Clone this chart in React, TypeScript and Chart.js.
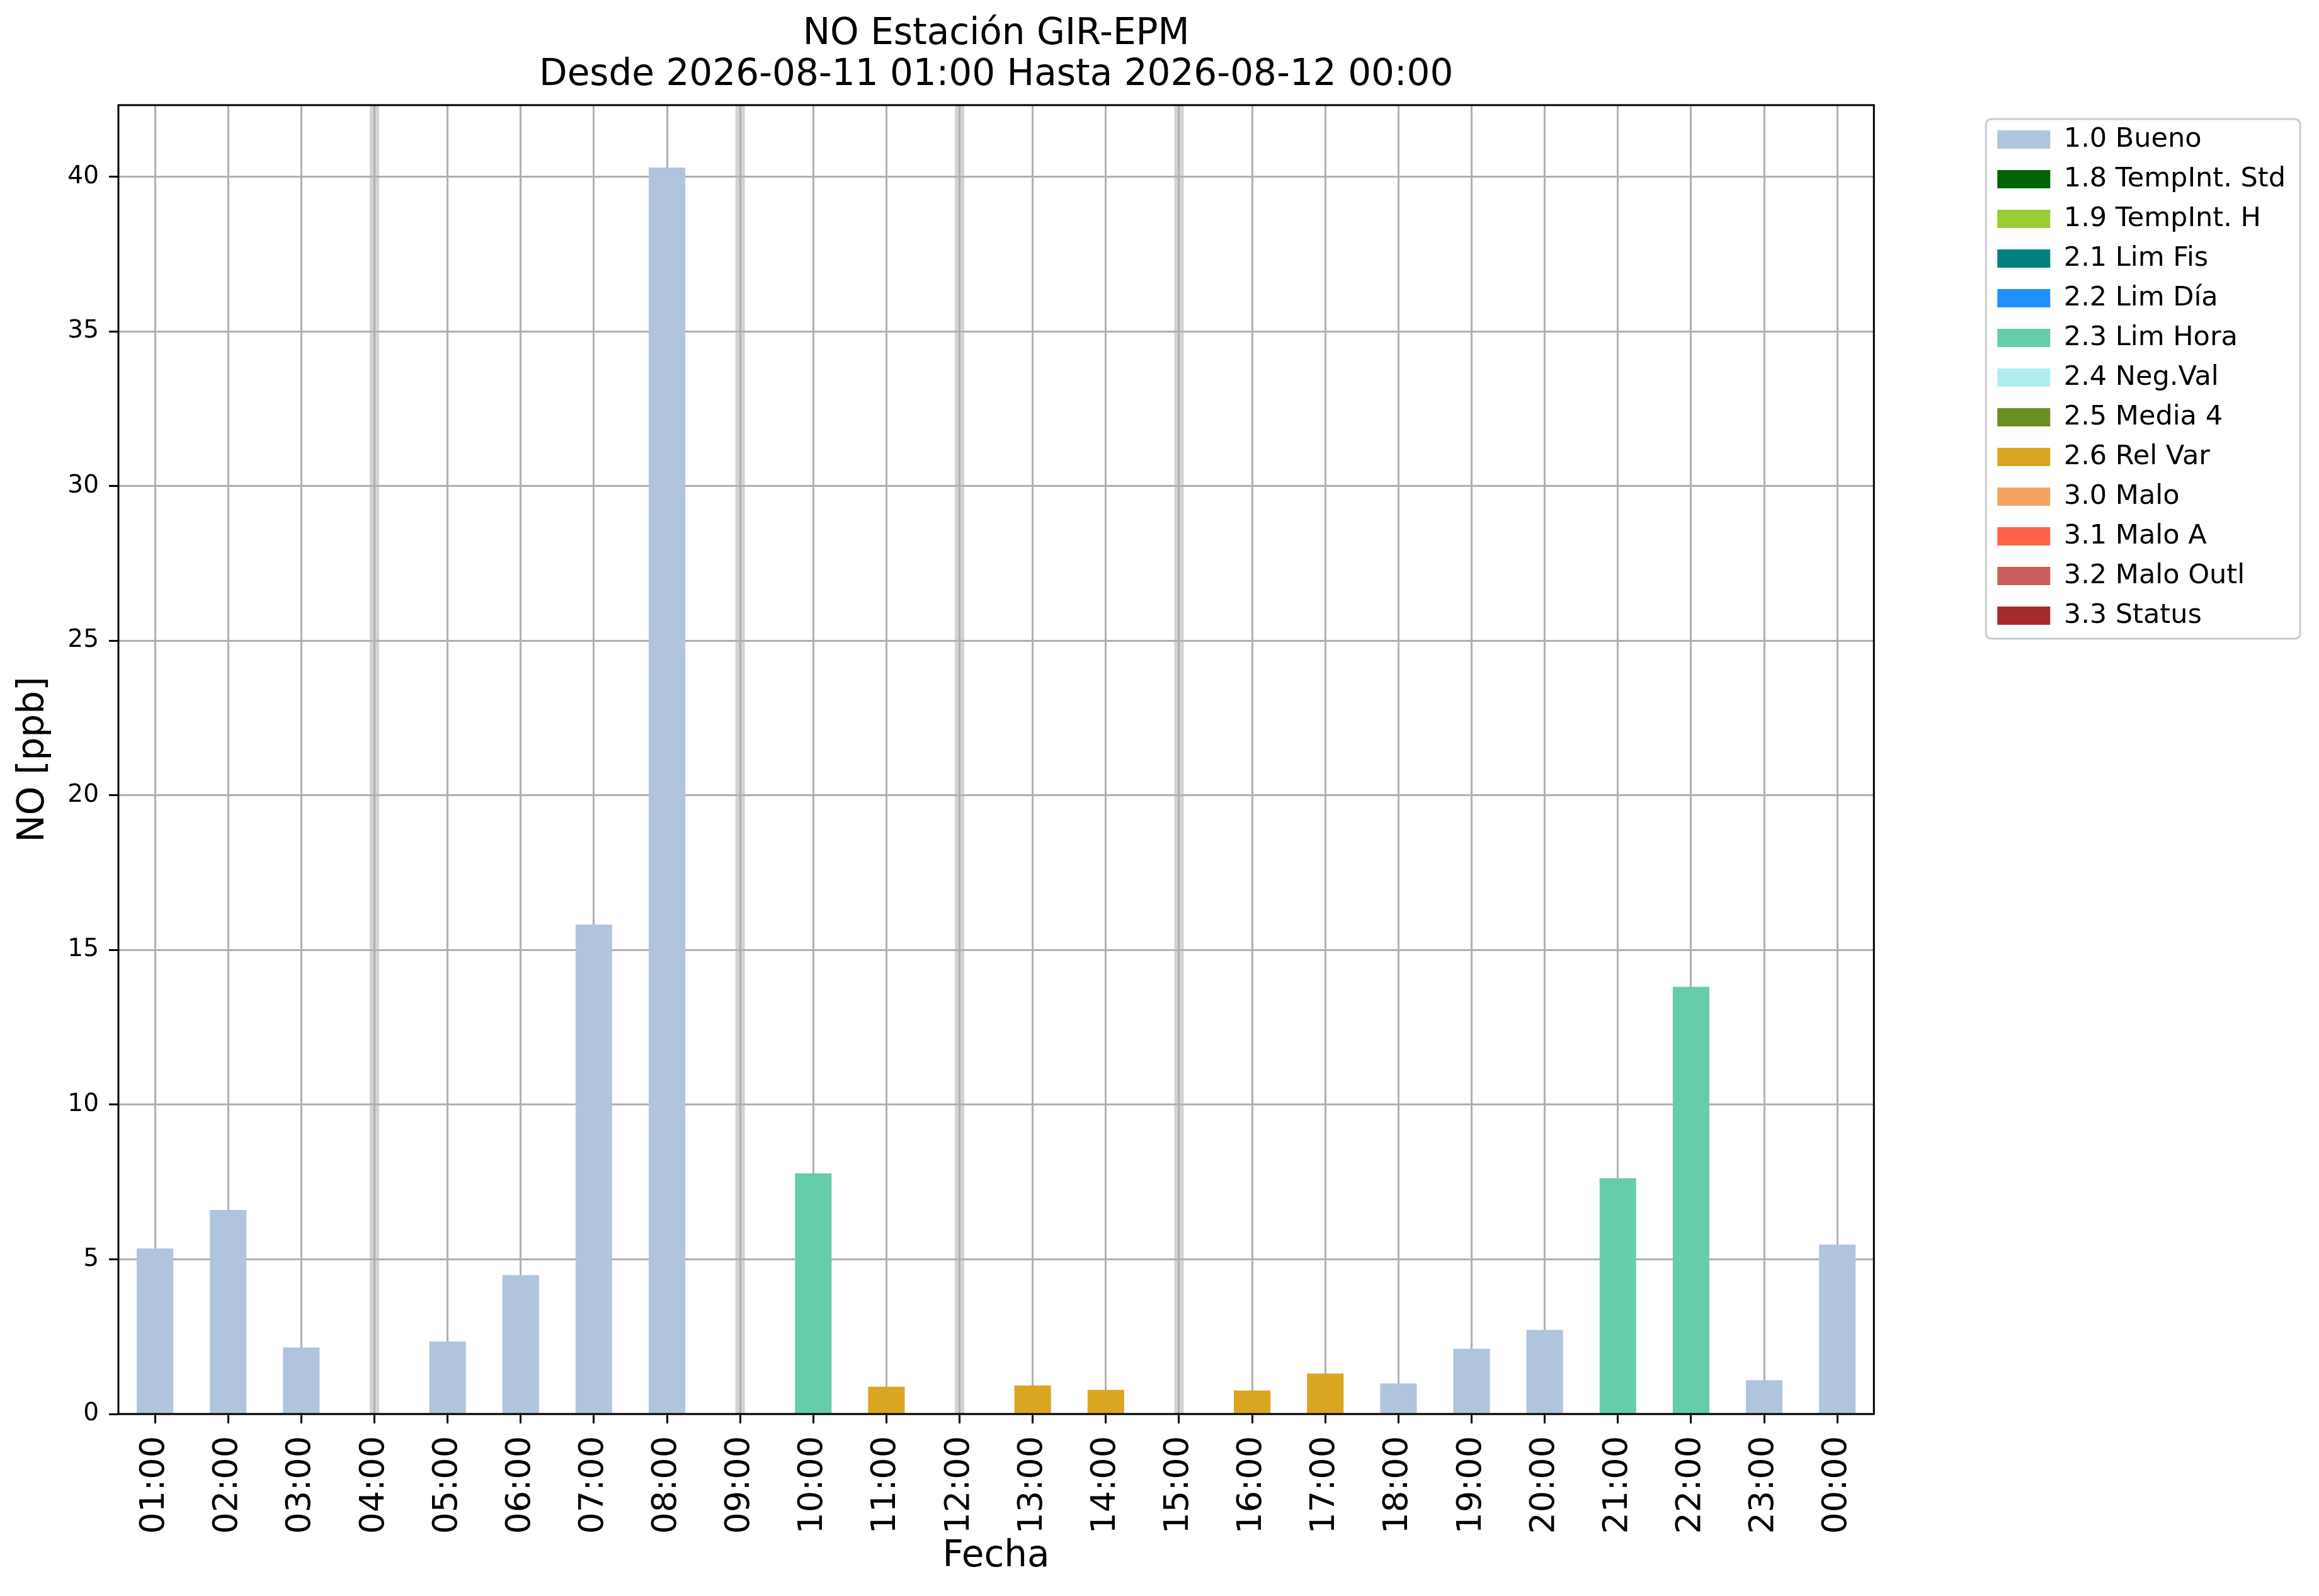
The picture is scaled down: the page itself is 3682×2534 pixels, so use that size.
import React, { useRef, useEffect } from "react";
import { Chart, registerables } from "chart.js";

Chart.register(...registerables);

const FONT = "'DejaVu Sans', sans-serif";

const hours = [
  "01:00", "02:00", "03:00", "04:00", "05:00", "06:00", "07:00", "08:00",
  "09:00", "10:00", "11:00", "12:00", "13:00", "14:00", "15:00", "16:00",
  "17:00", "18:00", "19:00", "20:00", "21:00", "22:00", "23:00", "00:00",
];

// NO [ppb] per hour, null = no data
const noValues = [
  5.35, 6.6, 2.15, null, 2.34, 4.49, 15.82, 40.3,
  null, 7.78, 0.88, null, 0.92, 0.78, null, 0.76,
  1.31, 0.99, 2.11, 2.72, 7.62, 13.81, 1.09, 5.48,
];

// quality flag per hour
const hourFlags = [
  "1.0", "1.0", "1.0", null, "1.0", "1.0", "1.0", "1.0",
  null, "2.3", "2.6", null, "2.6", "2.6", null, "2.6",
  "2.6", "1.0", "1.0", "1.0", "2.3", "2.3", "1.0", "1.0",
];

const flagCodes = ["1.0", "1.8", "1.9", "2.1", "2.2", "2.3", "2.4", "2.5", "2.6", "3.0", "3.1", "3.2", "3.3"];
const flagNames = [
  "Bueno", "TempInt. Std", "TempInt. H", "Lim Fis", "Lim Día", "Lim Hora",
  "Neg.Val", "Media 4", "Rel Var", "Malo", "Malo A", "Malo Outl", "Status",
];
const flagColors = [
  "#b0c4de", "#006400", "#9acd32", "#008080", "#1e90ff", "#66cdaa",
  "#afeeee", "#6b8e23", "#daa520", "#f4a460", "#ff6347", "#cd5c5c", "#a52a2a",
];

const yTop = Math.max(...noValues.filter((v) => v !== null)) * 1.05;

// light grey bands where the hour has no data
const missingBands = {
  id: "missingBands",
  beforeDraw(chart: any) {
    const { ctx, chartArea } = chart;
    const x = chart.scales.x;
    ctx.save();
    ctx.fillStyle = "#d3d3d3";
    noValues.forEach((v, i) => {
      if (v === null) {
        const px = x.getPixelForValue(i);
        ctx.fillRect(px - 7.5, chartArea.top, 15, chartArea.bottom - chartArea.top);
      }
    });
    ctx.restore();
  },
};

// axes frame + legend border
const frames = {
  id: "frames",
  afterDraw(chart: any) {
    const { ctx, chartArea } = chart;
    ctx.save();
    ctx.strokeStyle = "#000";
    ctx.lineWidth = 3;
    ctx.strokeRect(chartArea.left, chartArea.top, chartArea.right - chartArea.left, chartArea.bottom - chartArea.top);

    const boxes = chart.legend.legendHitBoxes;
    if (boxes && boxes.length) {
      const left = boxes[0].left - 18;
      const top = boxes[0].top - 11;
      const right = Math.max(...boxes.map((b: any) => b.left + b.width)) + 23;
      const last = boxes[boxes.length - 1];
      const bottom = last.top + last.height + 15;
      ctx.strokeStyle = "#cccccc";
      ctx.beginPath();
      ctx.roundRect(left, top, right - left, bottom - top, 8);
      ctx.stroke();
    }
    ctx.restore();
  },
};

const App = () => {
  const canvasRef = useRef<HTMLCanvasElement>(null);
  const chartRef = useRef<any>(null);

  useEffect(() => {
    document.body.style.margin = "0";
    const ctx = canvasRef.current!.getContext("2d");

    if (chartRef.current) {
      chartRef.current.destroy();
    }

    const datasets = flagCodes.map((code, k) => ({
      label: `${code} ${flagNames[k]}`,
      data: noValues.map((v, i) => (hourFlags[i] === code ? v : null)),
      backgroundColor: flagColors[k],
      borderWidth: 0,
      barPercentage: 0.5,
      categoryPercentage: 1,
      xAxisID: "x",
      yAxisID: "y",
    }));

    const gridOpts = {
      color: "#b0b0b0",
      lineWidth: 3,
      tickColor: "#000",
      tickWidth: 3,
      tickLength: 15,
    };

    chartRef.current = new Chart(ctx, {
      type: "bar",
      data: { labels: hours, datasets },
      options: {
        animation: false,
        responsive: false,
        devicePixelRatio: 1,
        layout: { padding: { top: 0, right: 43, bottom: 0, left: 0 } },
        plugins: {
          title: {
            display: true,
            fullSize: false,
            text: ["NO Estación GIR-EPM", "Desde 2026-08-11 01:00 Hasta 2026-08-12 00:00"],
            color: "#000",
            font: { family: FONT, size: 58, weight: "normal", lineHeight: 1.12 },
            padding: { top: 22, bottom: 15 },
          },
          legend: {
            position: "right",
            align: "start",
            // empty title only pushes the entries down
            title: { display: true, text: "", padding: { top: 167, bottom: 0 }, font: { size: 13, lineHeight: 1 } },
            labels: {
              boxWidth: 84,
              boxHeight: 29,
              padding: 20,
              color: "#000",
              font: { family: FONT, size: 43 },
            },
          },
          tooltip: { enabled: false },
        },
        scales: {
          x: {
            stacked: true,
            offset: true,
            grid: { ...gridOpts, offset: false },
            border: { display: false },
            ticks: {
              autoSkip: false,
              minRotation: 90,
              maxRotation: 90,
              padding: 20,
              color: "#000",
              font: { family: FONT, size: 54 },
            },
            title: {
              display: true,
              text: "Fecha",
              color: "#000",
              font: { family: FONT, size: 58 },
              padding: { top: 0, bottom: 27 },
            },
            afterFit: (s: any) => {
              s.height = 289;
            },
            z: 1,
          },
          y: {
            stacked: true,
            min: 0,
            max: yTop,
            grid: gridOpts,
            border: { display: false },
            ticks: {
              stepSize: 5,
              includeBounds: false,
              padding: 16,
              color: "#000",
              font: { family: FONT, size: 39 },
            },
            title: {
              display: true,
              text: "NO [ppb]",
              color: "#000",
              font: { family: FONT, size: 58 },
              padding: { top: 19, bottom: 0 },
            },
            afterFit: (s: any) => {
              s.width = 188;
            },
            z: 1,
          },
          gap: {
            type: "linear",
            position: "right",
            display: true,
            grid: { display: false },
            ticks: { display: false },
            border: { display: false },
            afterFit: (s: any) => {
              s.width = 176;
            },
          },
        },
      } as any,
      plugins: [missingBands, frames],
    });

    return () => {
      if (chartRef.current) {
        chartRef.current.destroy();
        chartRef.current = null;
      }
    };
  }, []);

  return (
    <div style={{ width: 3682, height: 2534 }}>
      <canvas ref={canvasRef} width={3682} height={2534} style={{ display: "block" }} />
    </div>
  );
};

export default App;
